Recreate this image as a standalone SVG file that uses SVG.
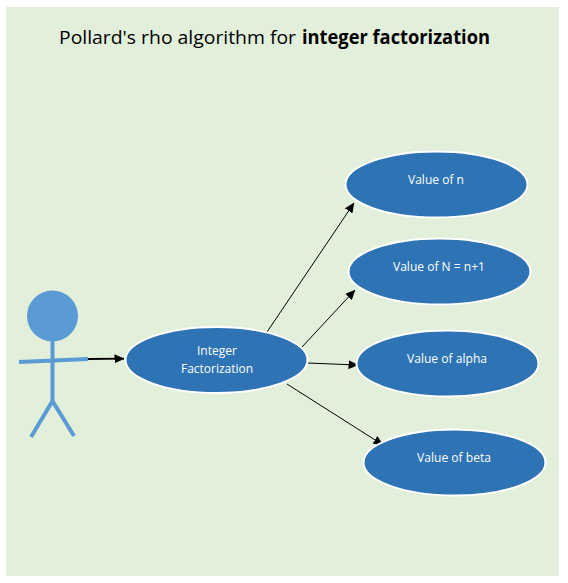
<svg xmlns="http://www.w3.org/2000/svg" width="568" height="583" viewBox="0 0 568 583">
<style>
.t{font-family:"Open Sans","Liberation Sans",sans-serif}
.node{fill:#2e74b5;stroke:#fff;stroke-width:2}
.lab{fill:#fff;font-size:12px;text-anchor:middle}
.con{stroke:#000;stroke-width:1;fill:none;marker-end:url(#a)}
.limb{stroke:#5b9bd5;stroke-width:4;fill:none}
</style>
<defs><marker id="a" markerUnits="userSpaceOnUse" markerWidth="10" markerHeight="9" refX="9.500" refY="4.500" orient="auto"><path d="M0 0L10 4.500L0 9Z" fill="#000"/></marker></defs>
<rect width="568" height="583" fill="#fff"/>
<rect x="6" y="7" width="553" height="569" fill="#e2efda"/>
<text class="t" x="59" y="43.500" font-size="19" fill="#000" textLength="237" lengthAdjust="spacingAndGlyphs">Pollard's rho algorithm for</text>
<text class="t" x="302" y="43.500" font-size="19" font-weight="700" fill="#000" textLength="188" lengthAdjust="spacingAndGlyphs">integer factorization</text>
<g id="actor">
<circle cx="52.500" cy="316" r="25.500" fill="#5b9bd5"/>
<path class="limb" d="M52.500 341V401M19 362L88 359M52.500 401L31 437M52.500 401L74 436"/>
</g>
<g id="connectors">
<path d="M88 359L124 358.700" stroke="#000" stroke-width="1.800" fill="none" marker-end="url(#a)"/>
<path class="con" d="M267 332L354 203"/>
<path class="con" d="M302 347L355 290"/>
<path class="con" d="M307 363L358 365"/>
<path class="con" d="M287 384L383 445"/>
</g>
<g id="integer-factorization">
<ellipse class="node" cx="216.500" cy="360" rx="91" ry="33"/>
<text class="t lab" x="217" y="355" textLength="40" lengthAdjust="spacingAndGlyphs">Integer</text>
<text class="t lab" x="217" y="373" textLength="72" lengthAdjust="spacingAndGlyphs">Factorization</text>
</g>
<g id="value-n">
<ellipse class="node" cx="436.500" cy="184.500" rx="91" ry="33"/>
<text class="t lab" x="436" y="184" textLength="56" lengthAdjust="spacingAndGlyphs">Value of n</text>
</g>
<g id="value-N">
<ellipse class="node" cx="439.500" cy="271.500" rx="91" ry="33"/>
<text class="t lab" x="439" y="271" textLength="92" lengthAdjust="spacingAndGlyphs">Value of N = n+1</text>
</g>
<g id="value-alpha">
<ellipse class="node" cx="447.500" cy="363.500" rx="91" ry="33"/>
<text class="t lab" x="447" y="363" textLength="80" lengthAdjust="spacingAndGlyphs">Value of alpha</text>
</g>
<g id="value-beta">
<ellipse class="node" cx="454.500" cy="462.500" rx="91" ry="33"/>
<text class="t lab" x="454" y="462" textLength="74" lengthAdjust="spacingAndGlyphs">Value of beta</text>
</g>
</svg>
